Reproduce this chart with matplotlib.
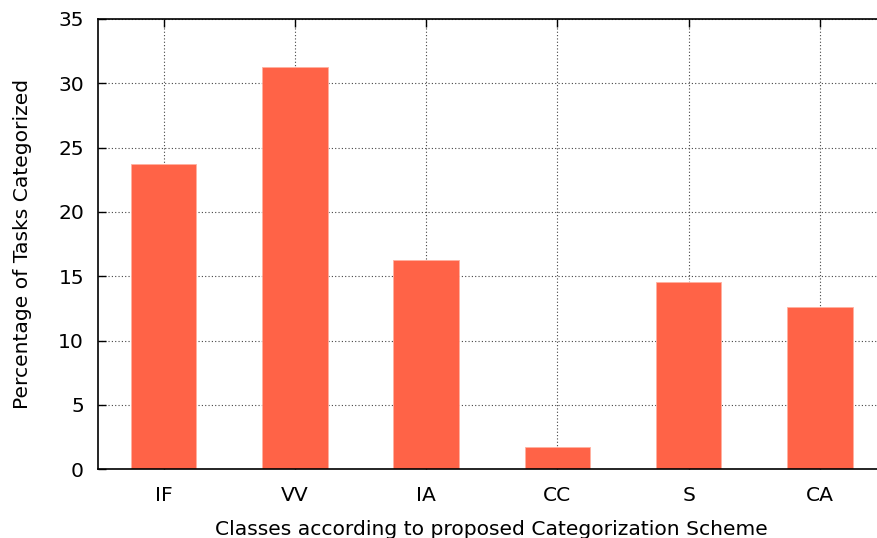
import matplotlib
matplotlib.use("Agg")
import matplotlib.pyplot as plt
import numpy as np

# classes and share of tasks (percent)
classes = ["IF", "VV", "IA", "CC", "S", "CA"]
percentages = [23.75, 31.3, 16.25, 1.7, 14.55, 12.6]

plt.rcParams["font.family"] = "DejaVu Sans"

fig = plt.figure(figsize=(8.77, 5.38), dpi=100)
# axes run slightly past the right edge, as in the reference crop
ax = fig.add_axes([98 / 877, (538 - 469.3) / 538, (885.5 - 98) / 877, 450.3 / 538])

x = np.arange(len(classes))
ax.bar(x, percentages, width=0.5, color="#ff6347", edgecolor="#ffb0a0",
       linewidth=0.6, zorder=2)

ax.set_xlim(-0.5, len(classes) - 0.5)
ax.set_ylim(0, 35)
ax.set_yticks(np.arange(0, 36, 5))
ax.set_xticks(x)
ax.set_xticklabels(classes)

ax.grid(True, linestyle=(0, (1, 2)), color="#444444", linewidth=0.8, zorder=0)
ax.set_axisbelow(True)
ax.tick_params(direction="in", top=True, right=True, length=6, width=1,
               labelsize=14.6, pad=10)
ax.tick_params(axis="x", pad=12)
for s in ax.spines.values():
    s.set_linewidth(1.2)
    s.set_zorder(3)

ax.set_ylabel("Percentage of Tasks Categorized", fontsize=14.6, labelpad=19)
ax.set_xlabel("Classes according to proposed Categorization Scheme",
              fontsize=14.6, labelpad=11)

fig.savefig("out.png", dpi=100)
